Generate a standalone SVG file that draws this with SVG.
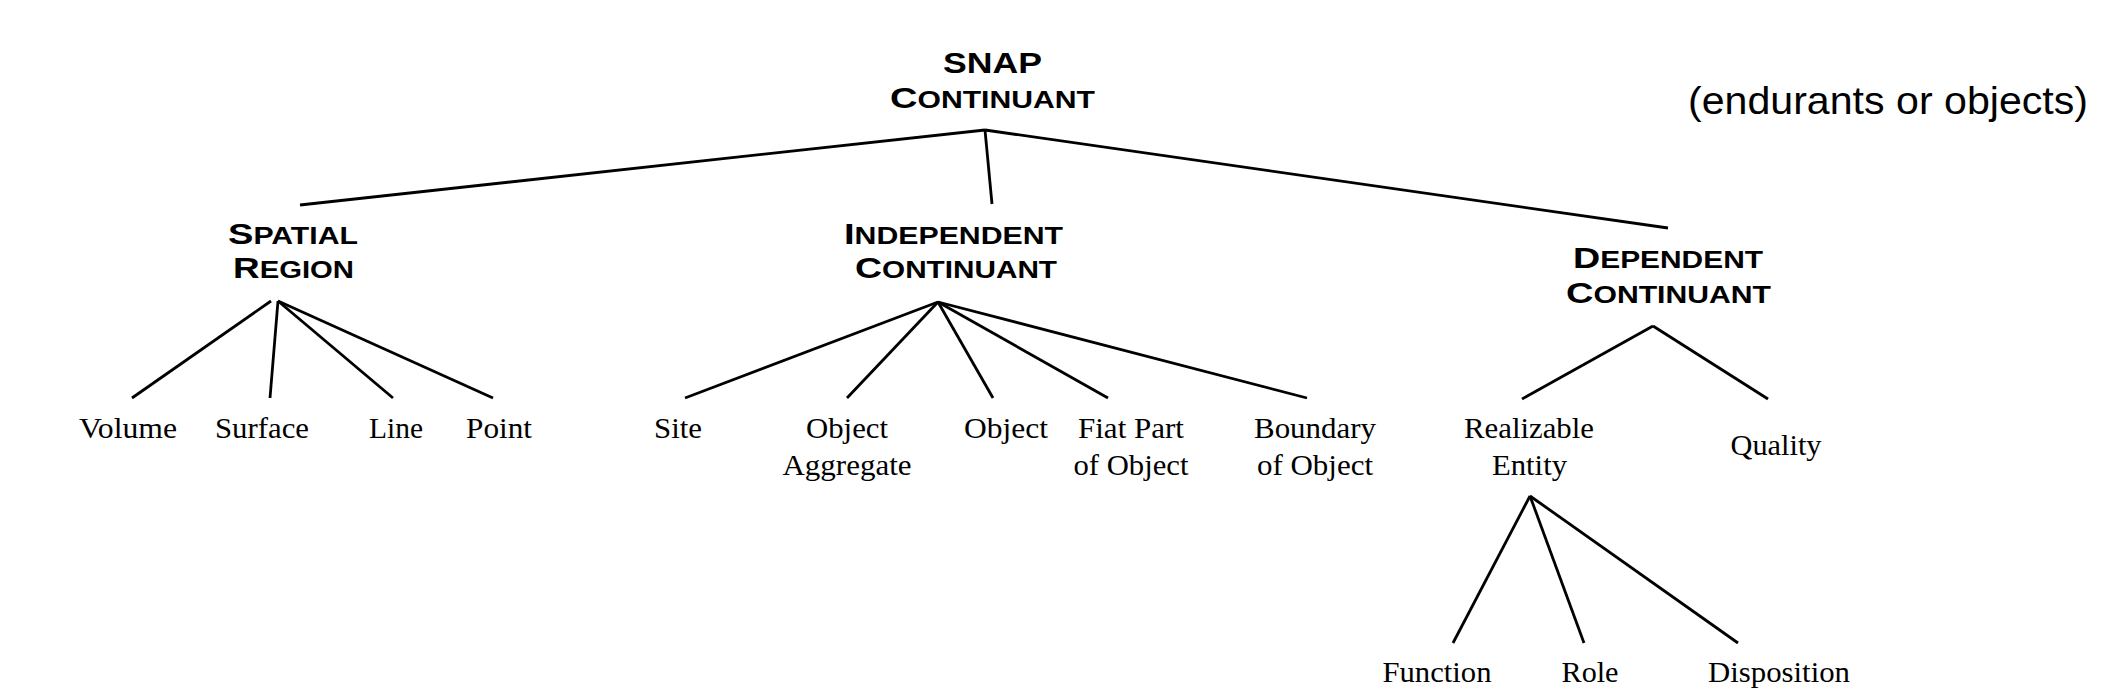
<svg xmlns="http://www.w3.org/2000/svg" width="2112" height="692" viewBox="0 0 2112 692">
<style>
.e{fill:none;stroke:#000;stroke-width:2.8;stroke-linecap:butt}
.h{font-family:"Liberation Sans",Arial,sans-serif;font-weight:bold;font-size:29px;fill:#000;text-anchor:middle}
.s{font-size:23px}
.t{font-family:"Liberation Serif","Times New Roman",serif;font-size:29px;fill:#000;text-anchor:middle}
.n{font-family:"Liberation Sans",Arial,sans-serif;font-size:39px;fill:#000}
</style>
<rect width="2112" height="692" fill="#fff"/>
<g id="connectors">
<line class="e" x1="985" y1="130" x2="300" y2="205"/>
<line class="e" x1="985" y1="130" x2="992" y2="204"/>
<line class="e" x1="985" y1="130" x2="1668" y2="228"/>
<line class="e" x1="271" y1="301" x2="132" y2="398"/>
<line class="e" x1="278" y1="301" x2="270" y2="398"/>
<line class="e" x1="278" y1="301" x2="393" y2="398"/>
<line class="e" x1="278" y1="301" x2="493" y2="398"/>
<line class="e" x1="938" y1="302" x2="685" y2="398"/>
<line class="e" x1="938" y1="302" x2="847" y2="398"/>
<line class="e" x1="938" y1="302" x2="993" y2="398"/>
<line class="e" x1="938" y1="302" x2="1108" y2="398"/>
<line class="e" x1="938" y1="302" x2="1307" y2="398"/>
<line class="e" x1="1653" y1="326" x2="1522" y2="399"/>
<line class="e" x1="1653" y1="326" x2="1768" y2="399"/>
<line class="e" x1="1530" y1="496" x2="1453" y2="643"/>
<line class="e" x1="1530" y1="496" x2="1584" y2="643"/>
<line class="e" x1="1530" y1="496" x2="1738" y2="643"/>
</g>
<g id="snap-continuant">
<text class="h" x="992.5" y="73" textLength="99" lengthAdjust="spacingAndGlyphs">SNAP</text>
<text class="h" x="992.5" y="108" textLength="205" lengthAdjust="spacingAndGlyphs">C<tspan class="s">ONTINUANT</tspan></text>
</g>
<g id="note">
<text class="n" x="1688" y="114" textLength="400" lengthAdjust="spacingAndGlyphs">(endurants or objects)</text>
</g>
<g id="spatial-region">
<text class="h" x="293" y="244" textLength="130" lengthAdjust="spacingAndGlyphs">S<tspan class="s">PATIAL</tspan></text>
<text class="h" x="293.5" y="278" textLength="121" lengthAdjust="spacingAndGlyphs">R<tspan class="s">EGION</tspan></text>
</g>
<g id="independent-continuant">
<text class="h" x="953.5" y="244" textLength="219" lengthAdjust="spacingAndGlyphs">I<tspan class="s">NDEPENDENT</tspan></text>
<text class="h" x="956" y="278" textLength="202" lengthAdjust="spacingAndGlyphs">C<tspan class="s">ONTINUANT</tspan></text>
</g>
<g id="dependent-continuant">
<text class="h" x="1668" y="268" textLength="190" lengthAdjust="spacingAndGlyphs">D<tspan class="s">EPENDENT</tspan></text>
<text class="h" x="1668.5" y="303" textLength="205" lengthAdjust="spacingAndGlyphs">C<tspan class="s">ONTINUANT</tspan></text>
</g>
<g id="volume"><text class="t" x="128" y="438" textLength="98" lengthAdjust="spacingAndGlyphs">Volume</text></g>
<g id="surface"><text class="t" x="262" y="438" textLength="94" lengthAdjust="spacingAndGlyphs">Surface</text></g>
<g id="line"><text class="t" x="396" y="438" textLength="54" lengthAdjust="spacingAndGlyphs">Line</text></g>
<g id="point"><text class="t" x="499" y="438" textLength="66" lengthAdjust="spacingAndGlyphs">Point</text></g>
<g id="site"><text class="t" x="678" y="438" textLength="48" lengthAdjust="spacingAndGlyphs">Site</text></g>
<g id="object-aggregate">
<text class="t" x="847" y="438" textLength="82" lengthAdjust="spacingAndGlyphs">Object</text>
<text class="t" x="847" y="475" textLength="129" lengthAdjust="spacingAndGlyphs">Aggregate</text>
</g>
<g id="object"><text class="t" x="1006" y="438" textLength="84" lengthAdjust="spacingAndGlyphs">Object</text></g>
<g id="fiat-part">
<text class="t" x="1131" y="438" textLength="106" lengthAdjust="spacingAndGlyphs">Fiat Part</text>
<text class="t" x="1131" y="475" textLength="115" lengthAdjust="spacingAndGlyphs">of Object</text>
</g>
<g id="boundary">
<text class="t" x="1315" y="438" textLength="122" lengthAdjust="spacingAndGlyphs">Boundary</text>
<text class="t" x="1315" y="475" textLength="116" lengthAdjust="spacingAndGlyphs">of Object</text>
</g>
<g id="realizable-entity">
<text class="t" x="1529" y="438" textLength="130" lengthAdjust="spacingAndGlyphs">Realizable</text>
<text class="t" x="1529.5" y="475" textLength="75" lengthAdjust="spacingAndGlyphs">Entity</text>
</g>
<g id="quality"><text class="t" x="1776" y="455" textLength="91" lengthAdjust="spacingAndGlyphs">Quality</text></g>
<g id="function"><text class="t" x="1437" y="682" textLength="109" lengthAdjust="spacingAndGlyphs">Function</text></g>
<g id="role"><text class="t" x="1590" y="682" textLength="57" lengthAdjust="spacingAndGlyphs">Role</text></g>
<g id="disposition"><text class="t" x="1779" y="682" textLength="142" lengthAdjust="spacingAndGlyphs">Disposition</text></g>
</svg>
